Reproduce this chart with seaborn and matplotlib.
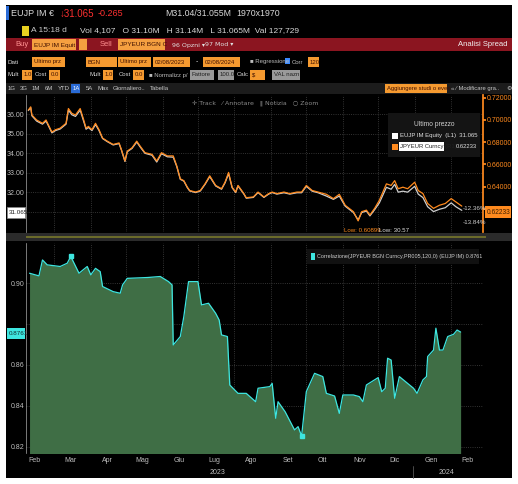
import pandas as pd
import matplotlib.pyplot as plt
from matplotlib.patches import Rectangle
import seaborn as sns

# ---- data (days counted from 8 Feb 2023) ----
START = pd.Timestamp("2023-02-08")

price_days = [-1, 1, 2, 6, 11, 14, 16, 19, 22, 26, 31, 33, 36, 39, 43, 46, 48, 50, 53, 56,
              59, 62, 66, 71, 76, 78, 81, 83, 87, 91, 94, 98, 104, 108, 112, 117, 122, 125,
              128, 131, 134, 136, 141, 145, 149, 153, 158, 163, 166, 169, 172, 175, 177, 182,
              184, 190, 194, 199, 203, 206, 210, 216, 221, 227, 231, 235, 240, 245, 252, 258,
              263, 268, 275, 279, 282, 286, 289, 293, 297, 303, 307, 310, 313, 317, 321, 327,
              330, 334, 338, 343, 348, 353, 358, 362, 367]
eujp = [36.20, 36.35, 35.93, 35.66, 35.50, 35.66, 35.42, 35.05, 35.17, 35.25, 35.50, 36.22,
        35.98, 35.90, 36.22, 35.64, 35.24, 35.33, 35.17, 35.48, 35.17, 34.76, 34.60, 34.43,
        34.50, 34.17, 33.58, 34.08, 34.25, 34.58, 34.32, 34.00, 33.90, 33.55, 33.98, 33.82,
        33.80, 33.32, 32.66, 32.57, 32.23, 32.06, 31.98, 32.06, 32.40, 32.80, 32.32, 32.15,
        32.48, 32.95, 32.23, 31.98, 32.32, 31.90, 31.69, 31.73, 31.98, 31.73, 31.90, 31.98,
        31.90, 31.97, 31.90, 31.97, 31.97, 32.30, 32.05, 31.97, 31.80, 31.63, 31.80, 31.28,
        30.95, 30.57, 30.95, 31.03, 30.78, 31.10, 31.45, 32.25, 32.15, 32.40, 32.00, 32.05,
        32.00, 32.30, 31.90, 31.72, 31.25, 31.00, 31.12, 31.20, 31.45, 31.25, 31.065]
jpyeur = [0.7089, 0.7118, 0.7045, 0.7000, 0.6970, 0.7000, 0.6956, 0.6891, 0.6912, 0.6926,
          0.6970, 0.7103, 0.7059, 0.7045, 0.7103, 0.7000, 0.6926, 0.6942, 0.6912, 0.6970,
          0.6912, 0.6837, 0.6809, 0.6779, 0.6793, 0.6733, 0.6630, 0.6719, 0.6749, 0.6809,
          0.6763, 0.6705, 0.6690, 0.6630, 0.6705, 0.6676, 0.6676, 0.6586, 0.6469, 0.6453,
          0.6394, 0.6364, 0.6350, 0.6364, 0.6424, 0.6497, 0.6410, 0.6380, 0.6439, 0.6527,
          0.6394, 0.6350, 0.6410, 0.6336, 0.6299, 0.6306, 0.6350, 0.6306, 0.6336, 0.6350,
          0.6336, 0.6350, 0.6336, 0.6350, 0.6350, 0.6410, 0.6364, 0.6350, 0.6330, 0.6291,
          0.6330, 0.6231, 0.6173, 0.6090, 0.6173, 0.6187, 0.6143, 0.6203, 0.6276, 0.6424,
          0.6410, 0.6453, 0.6380, 0.6394, 0.6380, 0.6439, 0.6364, 0.6336, 0.6247, 0.6203,
          0.6231, 0.6247, 0.6291, 0.6261, 0.62233]

corr_days = [0, 8, 11, 15, 26, 32, 35, 42, 49, 52, 56, 60, 62, 71, 77, 79, 83, 100, 111, 118,
             121, 122, 128, 131, 135, 143, 146, 152, 158, 161, 163, 168, 170, 177, 184, 192,
             194, 204, 206, 209, 211, 217, 225, 228, 231, 235, 242, 249, 252, 259, 263, 266,
             275, 280, 283, 286, 296, 299, 302, 304, 307, 310, 314, 326, 329, 334, 337, 338,
             343, 345, 348, 351, 355, 360, 363, 366]
corr = [0.9049, 0.9036, 0.9114, 0.9090, 0.9082, 0.9098, 0.9131, 0.9049, 0.9082, 0.9041,
        0.9073, 0.9057, 0.8984, 0.8959, 0.8951, 0.8992, 0.9024, 0.9028, 0.9033, 0.9008,
        0.8992, 0.8698, 0.8739, 0.8837, 0.9008, 0.9008, 0.8894, 0.8902, 0.8853, 0.8820,
        0.8747, 0.8739, 0.8502, 0.8461, 0.8461, 0.8420, 0.8486, 0.8494, 0.8510, 0.8339,
        0.8420, 0.8371, 0.8282, 0.8298, 0.8252, 0.8469, 0.8559, 0.8543, 0.8461, 0.8448,
        0.8363, 0.8453, 0.8453, 0.8445, 0.8420, 0.8502, 0.8538, 0.8469, 0.8486, 0.8633,
        0.8624, 0.8437, 0.8543, 0.8486, 0.8461, 0.8527, 0.8543, 0.8641, 0.8673, 0.8780,
        0.8673, 0.8673, 0.8739, 0.8750, 0.8771, 0.8761]

month_labels = ["Feb", "Mar", "Apr", "Mag", "Giu", "Lug", "Ago", "Set", "Ott", "Nov", "Dic", "Gen", "Feb"]

ORANGE = "#ff8a1e"
CYAN = "#3ee6e0"
GREEN = "#3f6e45"
GRID = "#444444"
FONT = ["Liberation Sans", "DejaVu Sans"]

W, H = 518, 484
sns.set_theme(style="dark")
plt.rcParams["font.family"] = FONT
fig = plt.figure(figsize=(W / 100, H / 100), dpi=100, facecolor="white")


def fx(x):
    return x / W


def fy(y):
    return 1 - y / H


def box(x, y, w, h, color, z=1, **kw):
    fig.patches.append(Rectangle((fx(x), fy(y + h)), w / W, h / H, transform=fig.transFigure,
                                 facecolor=color, edgecolor=kw.pop("ec", "none"), lw=0.5,
                                 zorder=z, **kw))


def txt(x, y, s, color="#d8d8d8", size=4.5, ha="left", **kw):
    fig.text(fx(x), fy(y), s, color=color, fontsize=size, ha=ha, va="center", zorder=12, **kw)


# terminal background (behind the axes)
box(6, 5, 506, 473, "black", z=-5)

# header rows
box(6, 6, 3, 14, "#2a6bd6")
txt(11, 14, "EUJP IM €", size=6.5)
txt(60, 14, "↓31.065", color="#ff3030", size=7)
txt(98, 14, "-0.265", color="#ff3030", size=6.5)
txt(165, 14, "M31.04/31.055M", size=6.3)
txt(236, 14, "1970x1970", size=6.3)
box(22, 26, 7, 10, "#e8d020")
txt(31, 31, "A 15:18 d", color="#c8c8c8", size=6)
txt(80, 31, "Vol 4,107   O 31.10M   H 31.14M   L 31.065M  Val 127,729", size=6)

box(6, 38, 506, 13, "#8b1520")
txt(15, 45, "Buy", color="#ff9090", size=5.5)
box(32, 39, 44, 11, "#f5a040")
txt(34, 45, "EUJP IM Equit", color="#401000", size=4.6)
box(79, 39, 8, 11, "#f5a040")
txt(100, 45, "Sell", color="#ff9090", size=5.5)
box(118, 39, 47, 11, "#f5a040")
txt(120, 45, "JPYEUR BGN C", color="#401000", size=4.6)
txt(172, 45, "96 Opzni ▾", color="#e0e0e0", size=4.5, family=["DejaVu Sans"])
txt(205, 45, "97 Mod ▾", color="#e0e0e0", size=4.5, family=["DejaVu Sans"])
txt(508, 45, "Analisi Spread", color="#f0f0f0", size=5.5, ha="right")

txt(8, 62, "Dati", size=4.5)
for x0, w0, s in [(32, 33, "Ultimo prz"), (86, 31, "BGN"), (118, 33, "Ultimo prz"),
                  (153, 37, "02/08/2023"), (203, 37, "02/08/2024"), (308, 11, "120")]:
    box(x0, 57, w0, 10, "#f59a30")
    txt(x0 + 2, 62, s, color="#401000", size=4.3)
txt(196, 62, "-", size=5)
txt(250, 62, "■ Regressione", color="#bbbbbb", size=4.3)
box(285, 58, 5, 6, "#3a8aff")
txt(292, 62, "Corr", color="#bbbbbb", size=4.3)

txt(8, 75, "Mult", size=4.3)
txt(35, 75, "Cost", size=4.3)
txt(89, 75, "Mult", size=4.3)
txt(119, 75, "Cost", size=4.3)
for x0, w0, s in [(22, 10, "1.0"), (49, 11, "0.0"), (103, 10, "1.0"), (133, 11, "0.0"), (250, 15, "$")]:
    box(x0, 70, w0, 10, "#f59a30")
    txt(x0 + 1.5, 75, s, color="#401000", size=4.3)
for x0, w0, s in [(190, 24, "Fattore"), (218, 16, "100.0"), (272, 28, "VAL nazn")]:
    box(x0, 70, w0, 10, "#9a9a9a")
    txt(x0 + 1.5, 75, s, color="#202020", size=4.3)
txt(149, 75, "■ Normalizz p/", color="#bbbbbb", size=4.3)
txt(237, 75, "Calc", size=4.3)

box(6, 83, 506, 11, "#1c1c1c")
for x0, s in [(8, "1G"), (20, "3G"), (32, "1M"), (45, "6M"), (58, "YTD"), (86, "5A"),
              (98, "Max"), (113, "Giornaliero.."), (150, "Tabella")]:
    txt(x0, 88.5, s, color="#c8c8c8", size=4.3)
box(71, 84, 9, 9, "#2a6bd6")
txt(72.5, 88.5, "1A", color="white", size=4.3)
box(385, 84, 62, 9, "#f59a30")
txt(387, 88.5, "Aggiungere studi o even", color="#401000", size=4.2)
txt(451, 88.5, "« ⁄ Modificare gra..", color="#c8c8c8", size=4.2)
txt(506, 88.5, "⚙", color="#c8c8c8", size=4.5, family=["DejaVu Sans"])

# separator between panels
box(6, 233, 506, 8, "#2b2b2b", z=10)
box(26, 236, 460, 1.5, "#6a6a2a", z=11)

# ---- axes ----
x_lo, x_hi = START - pd.Timedelta(days=3), START + pd.Timedelta(days=385)
ax1 = fig.add_axes([fx(26), fy(232), (483 - 26) / W, 137 / H])
ax2 = fig.add_axes([fx(26), fy(453), (483 - 26) / W, 210 / H])

price = pd.DataFrame({"date": START + pd.to_timedelta(price_days, unit="D"),
                      "eujp": eujp, "jpyeur": jpyeur})
cdf = pd.DataFrame({"date": START + pd.to_timedelta(corr_days, unit="D"), "corr": corr})

ax1r = ax1.twinx()
ax1r.patch.set_visible(False)
sns.lineplot(data=price, x="date", y="eujp", ax=ax1, color="#cfcfcf", lw=0.9)
sns.lineplot(data=price, x="date", y="jpyeur", ax=ax1r, color=ORANGE, lw=0.9)
ax1.set_ylim(29.95, 37.0)
ax1r.set_ylim(0.599, 0.7225)

ax2.fill_between(cdf["date"], 0.80, cdf["corr"], color=GREEN, lw=0)
sns.lineplot(data=cdf, x="date", y="corr", ax=ax2, color=CYAN, lw=0.9)
imax, imin = cdf["corr"].idxmax(), cdf["corr"].idxmin()
ax2.plot(cdf["date"][[imax, imin]], cdf["corr"][[imax, imin]], "s", color=CYAN, ms=2.5)
ax2.set_ylim(0.8169, 0.9197)

month_starts = pd.date_range("2023-02-01", "2024-02-01", freq="MS")
for ax in (ax1, ax2):
    ax.set_facecolor("black")
    ax.set_xlim(x_lo, x_hi)
    ax.set_xlabel("")
    ax.set_ylabel("")
    ax.set_xticks(month_starts[1:], minor=True)
    ax.grid(False)
    ax.grid(True, which="minor", axis="x", color=GRID, ls=":", lw=0.6)
    ax.grid(True, which="major", axis="y", color=GRID, ls=":", lw=0.6)
    for s in ax.spines.values():
        s.set_visible(False)
    ax.spines["left"].set_visible(True)
    ax.spines["left"].set_color("#aaaaaa")
    ax.spines["left"].set_linewidth(0.5)
    ax.tick_params(which="both", length=0, labelsize=5, colors="#bdbdbd", pad=1)
ax1r.set_ylabel("")
for s in ax1r.spines.values():
    s.set_visible(False)
ax1r.spines["right"].set_visible(True)
ax1r.spines["right"].set_color(ORANGE)
ax1r.tick_params(length=2, labelsize=5, colors=ORANGE, pad=1)
ax1r.set_yticks([0.62, 0.64, 0.66, 0.68, 0.70, 0.72])
ax1r.set_yticklabels(["", "0.64000", "0.66000", "0.68000", "0.70000", "0.72000"])
ax1r.grid(False)

ax1.set_yticks([31, 32, 33, 34, 35, 36])
ax1.set_yticklabels(["", "32.00", "33.00", "34.00", "35.00", "36.00"])
ax1.set_xticks([])
ax2.set_yticks([0.82, 0.84, 0.86, 0.88, 0.90])
ax2.set_yticklabels(["0.82", "0.84", "0.86", "", "0.90"])
mids = pd.date_range("2023-03-01", "2024-02-01", freq="MS") + pd.Timedelta(days=14)
mids = mids.insert(0, pd.Timestamp("2023-02-12"))
ax2.set_xticks(mids)
ax2.set_xticklabels(month_labels)
ax2.tick_params(axis="x", pad=3)

# panel annotations
txt(255, 103, "✛ Track   ⁄ Annotare   ‖ Notizia   ○ Zoom", color="#8a8a8a", size=4.5, ha="center",
    family=["DejaVu Sans"])
box(388, 113, 92, 44, "#141414", z=11)
txt(434, 125, "Ultimo prezzo", color="#cfcfcf", size=4.8, ha="center")
box(392, 133, 6, 6, "white", z=11)
txt(400, 136, "EUJP IM Equity  (L1)  31.065", color="#e0e0e0", size=4.3)
box(392, 144, 6, 6, ORANGE, z=11)
box(399, 142, 45, 9, "white", z=11)
txt(400, 147, "JPYEUR Curncy (R1)", color="#202020", size=4.2)
txt(477, 147, "0.62233", color="#e0e0e0", size=4.2, ha="right")
txt(344, 230, "Low: 0.60899", color=ORANGE, size=4.4)
txt(379, 230, "Low: 30.57", color="#e0e0e0", size=4.4)
txt(463, 208, "-12.36%", color="#cfcfcf", size=4.5)
txt(463, 222, "-13.84%", color="#cfcfcf", size=4.5)
box(7, 207, 18, 11, "white", z=11, ec="#888888")
txt(8.5, 212.5, "31.065", color="#202020", size=4.5)
box(485, 206, 26, 12, ORANGE, z=11)
txt(487, 212, "0.62233", color="#402000", size=4.8)

box(307, 249, 172, 15, "#111111", z=11)
box(311, 253, 4, 7, CYAN, z=11)
txt(317, 256.5, "Correlazione(JPYEUR BGN Curncy,PR005,120,0) (EUJP IM) 0.8761", color="#cfcfcf", size=3.9)
box(7, 328, 18, 11, CYAN, z=11)
txt(8.5, 333.5, "0.8761", color="#103030", size=4.5)

txt(218, 473, "2023", color="#bdbdbd", size=5, ha="center")
txt(446, 473, "2024", color="#bdbdbd", size=5, ha="center")
fig.lines.append(plt.Line2D([fx(413), fx(413)], [fy(466), fy(478)], transform=fig.transFigure,
                            color="#555555", lw=0.6))

fig.savefig("out.png", dpi=100, facecolor="white")
